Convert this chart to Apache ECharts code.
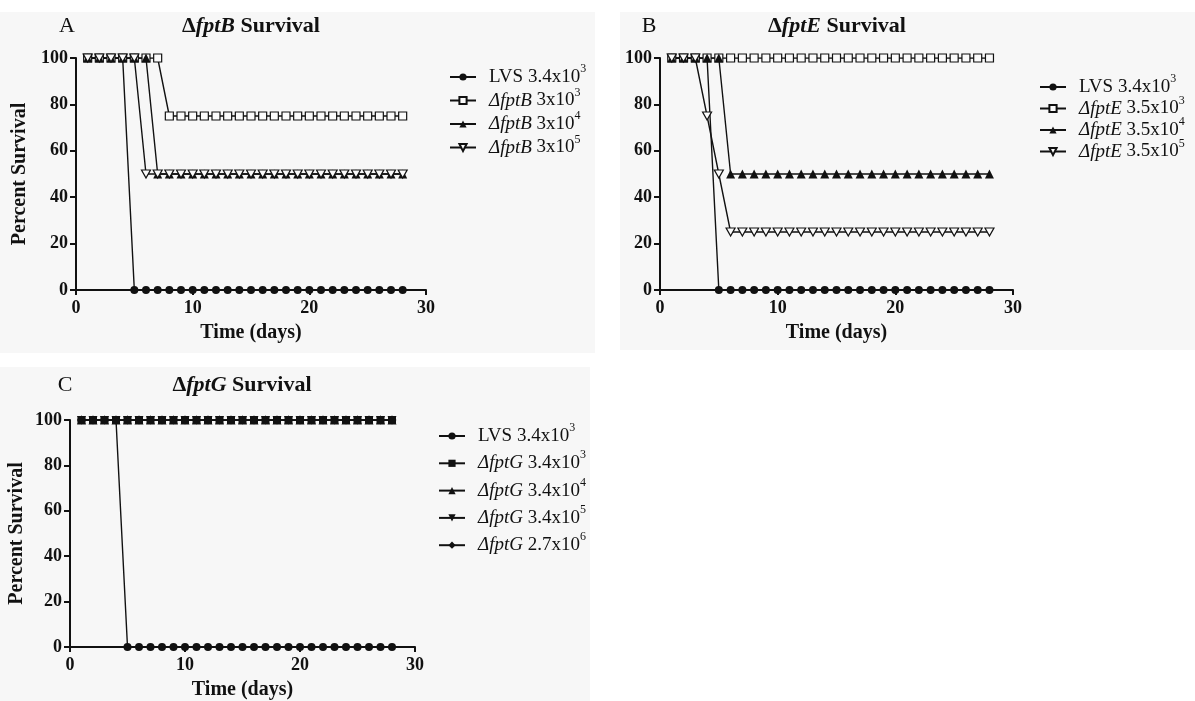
<!DOCTYPE html>
<html>
<head>
<meta charset="utf-8">
<script src="https://cdn.jsdelivr.net/npm/echarts@6/dist/echarts.min.js"></script>
<style>
html, body { margin: 0; padding: 0; background: #ffffff; }
#main { width: 1195px; height: 701px; }
</style>
</head>
<body>
<div id="main"></div>
<script>
var dom = document.getElementById("main");
var myChart = echarts.init(dom);

var days = [1, 2, 3, 4, 5, 6, 7, 8, 9, 10, 11, 12, 13, 14, 15, 16, 17, 18, 19, 20, 21, 22, 23, 24, 25, 26, 27, 28];
var xTicks = [0, 10, 20, 30];
var yTicks = [0, 20, 40, 60, 80, 100];

// panel A - fptB
var aLvs = [100, 100, 100, 100, 0, 0, 0, 0, 0, 0, 0, 0, 0, 0, 0, 0, 0, 0, 0, 0, 0, 0, 0, 0, 0, 0, 0, 0];
var aB3 = [100, 100, 100, 100, 100, 100, 100, 75, 75, 75, 75, 75, 75, 75, 75, 75, 75, 75, 75, 75, 75, 75, 75, 75, 75, 75, 75, 75];
var aB4 = [100, 100, 100, 100, 100, 100, 50, 50, 50, 50, 50, 50, 50, 50, 50, 50, 50, 50, 50, 50, 50, 50, 50, 50, 50, 50, 50, 50];
var aB5 = [100, 100, 100, 100, 100, 50, 50, 50, 50, 50, 50, 50, 50, 50, 50, 50, 50, 50, 50, 50, 50, 50, 50, 50, 50, 50, 50, 50];

// panel B - fptE
var bLvs = [100, 100, 100, 100, 0, 0, 0, 0, 0, 0, 0, 0, 0, 0, 0, 0, 0, 0, 0, 0, 0, 0, 0, 0, 0, 0, 0, 0];
var bE3 = [100, 100, 100, 100, 100, 100, 100, 100, 100, 100, 100, 100, 100, 100, 100, 100, 100, 100, 100, 100, 100, 100, 100, 100, 100, 100, 100, 100];
var bE4 = [100, 100, 100, 100, 100, 50, 50, 50, 50, 50, 50, 50, 50, 50, 50, 50, 50, 50, 50, 50, 50, 50, 50, 50, 50, 50, 50, 50];
var bE5 = [100, 100, 100, 75, 50, 25, 25, 25, 25, 25, 25, 25, 25, 25, 25, 25, 25, 25, 25, 25, 25, 25, 25, 25, 25, 25, 25, 25];

// panel C - fptG
var cLvs = [100, 100, 100, 100, 0, 0, 0, 0, 0, 0, 0, 0, 0, 0, 0, 0, 0, 0, 0, 0, 0, 0, 0, 0, 0, 0, 0, 0];
var cG3 = [100, 100, 100, 100, 100, 100, 100, 100, 100, 100, 100, 100, 100, 100, 100, 100, 100, 100, 100, 100, 100, 100, 100, 100, 100, 100, 100, 100];
var cG4 = [100, 100, 100, 100, 100, 100, 100, 100, 100, 100, 100, 100, 100, 100, 100, 100, 100, 100, 100, 100, 100, 100, 100, 100, 100, 100, 100, 100];
var cG5 = [100, 100, 100, 100, 100, 100, 100, 100, 100, 100, 100, 100, 100, 100, 100, 100, 100, 100, 100, 100, 100, 100, 100, 100, 100, 100, 100, 100];
var cG6 = [100, 100, 100, 100, 100, 100, 100, 100, 100, 100, 100, 100, 100, 100, 100, 100, 100, 100, 100, 100, 100, 100, 100, 100, 100, 100, 100, 100];

// legend labels: [strain (italic part), dose, exponent]
var legA = [['', 'LVS 3.4x10', '3'], ['fptB', ' 3x10', '3'], ['fptB', ' 3x10', '4'], ['fptB', ' 3x10', '5']];
var legB = [['', 'LVS 3.4x10', '3'], ['fptE', ' 3.5x10', '3'], ['fptE', ' 3.5x10', '4'], ['fptE', ' 3.5x10', '5']];
var legC = [['', 'LVS 3.4x10', '3'], ['fptG', ' 3.4x10', '3'], ['fptG', ' 3.4x10', '4'], ['fptG', ' 3.4x10', '5'], ['fptG', ' 2.7x10', '6']];

var FONT = 'Liberation Serif';
var BG = '#f7f7f7';
var downTri = 'path://M0,0L10,0L5,9Z';

function pairs(vals) {
    return days.map(function (d, i) { return [d, vals[i]]; });
}

var labelMap = {};
function legendNames(prefix, leg) {
    return leg.map(function (l, i) {
        var nm = prefix + i;
        var txt = l[0] ? '{i|\u0394' + l[0] + '}{n|' + l[1] + '}{s|' + l[2] + '}'
                       : '{n|' + l[1] + '}{s|' + l[2] + '}';
        labelMap[nm] = txt;
        return nm;
    });
}
var namesA = legendNames('A', legA);
var namesB = legendNames('B', legB);
var namesC = legendNames('C', legC);

// superscript is lifted by giving the main text a tall line box
var legendRich = {
    n: {fontFamily: FONT, fontSize: 19, color: '#111', lineHeight: 28, verticalAlign: 'middle'},
    i: {fontFamily: FONT, fontSize: 19, fontStyle: 'italic', color: '#111', lineHeight: 28, verticalAlign: 'middle'},
    s: {fontFamily: FONT, fontSize: 12, color: '#111', lineHeight: 13, verticalAlign: 'top'}
};
var titleRich = {
    d: {fontFamily: FONT, fontSize: 22, fontWeight: 'bold', color: '#111'},
    i: {fontFamily: FONT, fontSize: 22, fontWeight: 'bold', fontStyle: 'italic', color: '#111'}
};

function mkLegend(names, left, top, gap) {
    return {
        data: names, orient: 'vertical', left: left, top: top, padding: 0,
        itemGap: gap, itemWidth: 26, itemHeight: 9,
        formatter: function (name) { return labelMap[name]; },
        textStyle: {padding: [0, 0, 0, 8], rich: legendRich}
    };
}

function mkX(idx) {
    return {
        gridIndex: idx, type: 'value', min: 0, max: 30, interval: 10,
        name: 'Time (days)', nameLocation: 'middle', nameGap: 33,
        nameTextStyle: {fontFamily: FONT, fontSize: 20, fontWeight: 'bold', color: '#111'},
        axisLine: {lineStyle: {color: '#111', width: 2}},
        axisTick: {length: 5, lineStyle: {color: '#111', width: 2}},
        axisLabel: {fontFamily: FONT, fontSize: 18, fontWeight: 'bold', color: '#111', margin: 9},
        splitLine: {show: false}
    };
}
function mkY(idx, named, gap) {
    return {
        gridIndex: idx, type: 'value', min: 0, max: 100, interval: 20,
        name: named ? 'Percent Survival' : '', nameLocation: 'middle', nameGap: gap, nameRotate: 90,
        nameTextStyle: {fontFamily: FONT, fontSize: 20, fontWeight: 'bold', color: '#111'},
        axisLine: {show: true, lineStyle: {color: '#111', width: 2}},
        axisTick: {show: true, length: 6, lineStyle: {color: '#111', width: 2}},
        axisLabel: {fontFamily: FONT, fontSize: 18, fontWeight: 'bold', color: '#111', margin: 8},
        splitLine: {show: false}
    };
}

function mkSeries(name, idx, vals, symbol, size, open) {
    return {
        name: name, type: 'line', xAxisIndex: idx, yAxisIndex: idx,
        data: pairs(vals), symbol: symbol, symbolSize: size, showAllSymbol: true,
        color: '#111',
        lineStyle: {color: '#111', width: 1.4},
        itemStyle: open ? {color: '#fbfbfb', borderColor: '#111', borderWidth: 1.2} : {color: '#111'},
        emphasis: {disabled: true},
        animation: false
    };
}

var series = [
    mkSeries(namesA[0], 0, aLvs, 'circle', 8, false),
    mkSeries(namesA[1], 0, aB3, 'rect', 8, true),
    mkSeries(namesA[2], 0, aB4, 'triangle', 9, false),
    mkSeries(namesA[3], 0, aB5, downTri, [9, 8], true),

    mkSeries(namesB[0], 1, bLvs, 'circle', 8, false),
    mkSeries(namesB[1], 1, bE3, 'rect', 8, true),
    mkSeries(namesB[2], 1, bE4, 'triangle', 9, false),
    mkSeries(namesB[3], 1, bE5, downTri, [9, 8], true),

    mkSeries(namesC[0], 2, cLvs, 'circle', 8, false),
    mkSeries(namesC[1], 2, cG3, 'rect', 8, false),
    mkSeries(namesC[2], 2, cG4, 'triangle', 9, false),
    mkSeries(namesC[3], 2, cG5, downTri, [9, 8], false),
    mkSeries(namesC[4], 2, cG6, 'diamond', 9, false)
];

function mkTitle(gene, cx, top) {
    return {
        text: '{d|\u0394}{i|' + gene + '}{d| Survival}',
        left: cx, top: top, textAlign: 'center', padding: 0,
        textStyle: {rich: titleRich}
    };
}

option = {
    backgroundColor: '#ffffff',
    animation: false,
    title: [
        mkTitle('fptB', 251, 15),
        mkTitle('fptE', 837, 15),
        mkTitle('fptG', 242, 374)
    ],
    legend: [
        mkLegend(namesA, 449, 63, 0),
        mkLegend(namesB, 1039, 73, -2),
        mkLegend(namesC, 438, 422, 3.8)
    ],
    grid: [
        {left: 76, top: 58, width: 350, height: 232},
        {left: 660, top: 58, width: 353, height: 232},
        {left: 70, top: 420, width: 345, height: 228}
    ],
    xAxis: [mkX(0), mkX(1), mkX(2)],
    yAxis: [mkY(0, true, 46), mkY(1, false, 46), mkY(2, true, 43)],
    graphic: [
        {type: 'rect', z: -10, shape: {x: 0, y: 12, width: 595, height: 341}, style: {fill: BG}},
        {type: 'rect', z: -10, shape: {x: 620, y: 12, width: 575, height: 338}, style: {fill: BG}},
        {type: 'rect', z: -10, shape: {x: 0, y: 367, width: 590, height: 334}, style: {fill: BG}},
        {type: 'text', x: 67, y: 26, style: {text: 'A', font: '22px "Liberation Serif"', fill: '#111', textAlign: 'center', textVerticalAlign: 'middle'}},
        {type: 'text', x: 649, y: 26, style: {text: 'B', font: '22px "Liberation Serif"', fill: '#111', textAlign: 'center', textVerticalAlign: 'middle'}},
        {type: 'text', x: 65, y: 385, style: {text: 'C', font: '22px "Liberation Serif"', fill: '#111', textAlign: 'center', textVerticalAlign: 'middle'}}
    ],
    series: series
};

if (option && typeof option === "object") {
    myChart.setOption(option, true);
}
</script>
</body>
</html>
